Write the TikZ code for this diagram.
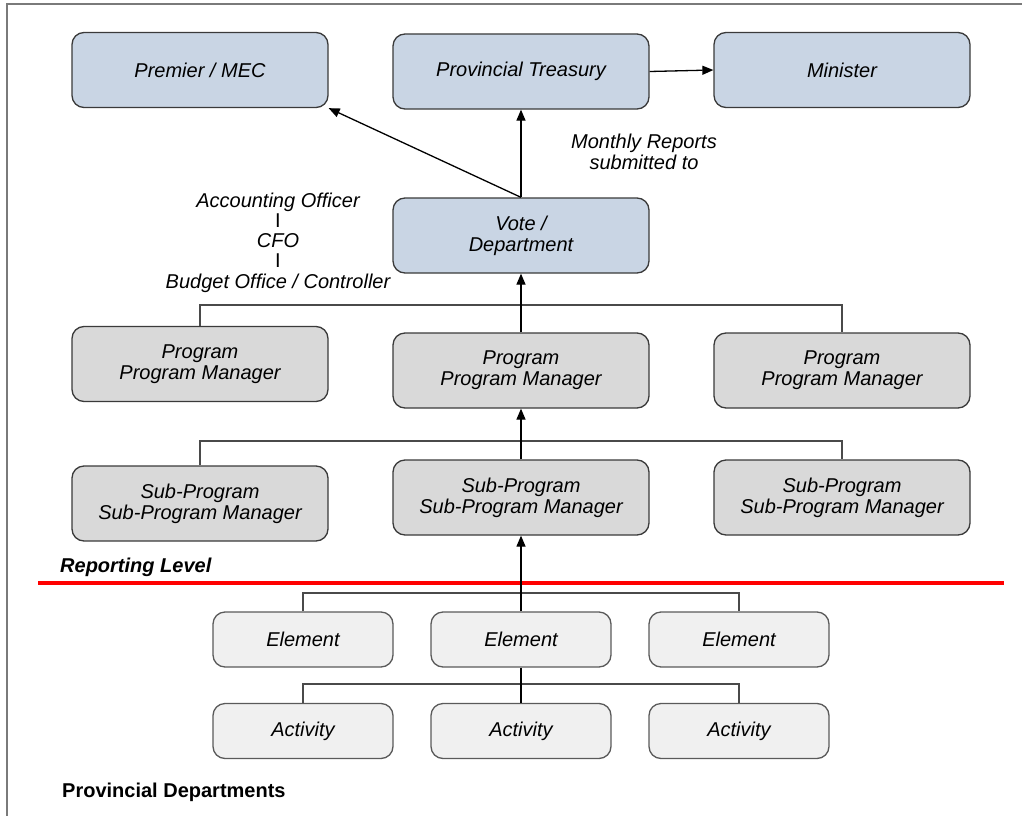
\documentclass[tikz,border=0pt]{standalone}
\usepackage{fontspec}
\setmainfont{Liberation Sans}
\usetikzlibrary{arrows.meta}

\definecolor{topfill}{HTML}{C9D5E4}
\definecolor{progfill}{HTML}{D9D9D9}
\definecolor{leaffill}{HTML}{F0F0F0}
\definecolor{boxline}{HTML}{3A3A3A}
\definecolor{leafline}{HTML}{5A5A5A}
\definecolor{branchline}{HTML}{4A4A4A}
\definecolor{framegray}{HTML}{7A7A7A}

\begin{document}
\begin{tikzpicture}[x=1pt,y=-1pt,
  txt/.style={font=\fontsize{20}{21}\selectfont},
  box/.style={txt, draw=boxline, line width=1.3pt, rounded corners=12pt,
    align=center, inner sep=0pt},
  topbox/.style={box, fill=topfill, minimum width=256pt, minimum height=75pt},
  progbox/.style={box, fill=progfill, minimum width=256pt, minimum height=75pt},
  leafbox/.style={box, fill=leaffill, draw=leafline, minimum width=180pt, minimum height=55pt},
  conn/.style={line width=1.3pt, draw=black},
  arr/.style={conn, -{Triangle[length=11pt,width=9pt]}},
  branch/.style={line width=1.3pt, draw=branchline},
  redline/.style={line width=4pt, draw=red},
  framing/.style={line width=1.5pt, draw=framegray}]

\useasboundingbox (0,0) rectangle (1022,816);

% open frame along the top and the left side
\draw[framing] (1022,4) -- (7,4) -- (7,816);

% top level
\node[topbox] (pm)   at (200,70)    {\itshape Premier / MEC};
\node[topbox] (pt)   at (521,71.5)  {\itshape Provincial Treasury};
\node[topbox] (mn)   at (842,70)    {\itshape Minister};
\node[topbox] (vote) at (521,235.5) {\itshape Vote /\\\itshape Department};

% programs
\node[progbox] (prL) at (200,364)   {\itshape Program\\\itshape Program Manager};
\node[progbox] (prC) at (521,370.5) {\itshape Program\\\itshape Program Manager};
\node[progbox] (prR) at (842,370.5) {\itshape Program\\\itshape Program Manager};

% sub-programs
\node[progbox] (spL) at (200,503.5) {\itshape Sub-Program\\\itshape Sub-Program Manager};
\node[progbox] (spC) at (521,497.5) {\itshape Sub-Program\\\itshape Sub-Program Manager};
\node[progbox] (spR) at (842,497.5) {\itshape Sub-Program\\\itshape Sub-Program Manager};

% elements and activities
\node[leafbox] (elL) at (303,639.5) {\itshape Element};
\node[leafbox] (elC) at (521,639.5) {\itshape Element};
\node[leafbox] (elR) at (739,639.5) {\itshape Element};
\node[leafbox] (acL) at (303,731)   {\itshape Activity};
\node[leafbox] (acC) at (521,731)   {\itshape Activity};
\node[leafbox] (acR) at (739,731)   {\itshape Activity};

% labels
\node[txt, align=center] (mr) at (644,151.5) {\itshape Monthly Reports\\\itshape submitted to};
\node[txt, align=center, font=\fontsize{20}{20.3}\selectfont] (ao) at (278,242.5)
  {\itshape Accounting Officer\\I\\\itshape CFO\\I\\\itshape Budget Office / Controller};
\node[txt, anchor=west, inner sep=0pt] (rl) at (60,567) {\bfseries\itshape Reporting Level};
\node[txt, anchor=west, inner sep=0pt] (pd) at (62,792) {\bfseries Provincial Departments};

% reporting boundary
\coordinate (rlA) at (38,583);
\coordinate (rlB) at (1004,583);
\draw[redline] (rlA) -- (rlB);

% junction points of the branch lines
\coordinate (pj) at (521,305);
\coordinate (sj) at (521,441);
\coordinate (ej) at (521,593);
\coordinate (aj) at (521,684);

\draw[branch] (prL.north) |- (pj) -| (prR.north);
\draw[branch] (spL.north) |- (sj) -| (spR.north);
\draw[branch] (elL.north) |- (ej) -| (elR.north);
\draw[branch] (acL.north) |- (aj) -| (acR.north);

% reporting lines
\draw[arr] (pt.east) -- (mn.west);
\draw[arr] (vote.north) -- (pt.south);
\draw[arr] (vote.north) -- (pm.south east);
\draw[arr] (prC.north) -- (vote.south);
\draw[arr] (spC.north) -- (prC.south);
\draw[arr] (elC.north) -- (spC.south);
\draw[conn] (elC.south) -- (acC.north);
\end{tikzpicture}
\end{document}
